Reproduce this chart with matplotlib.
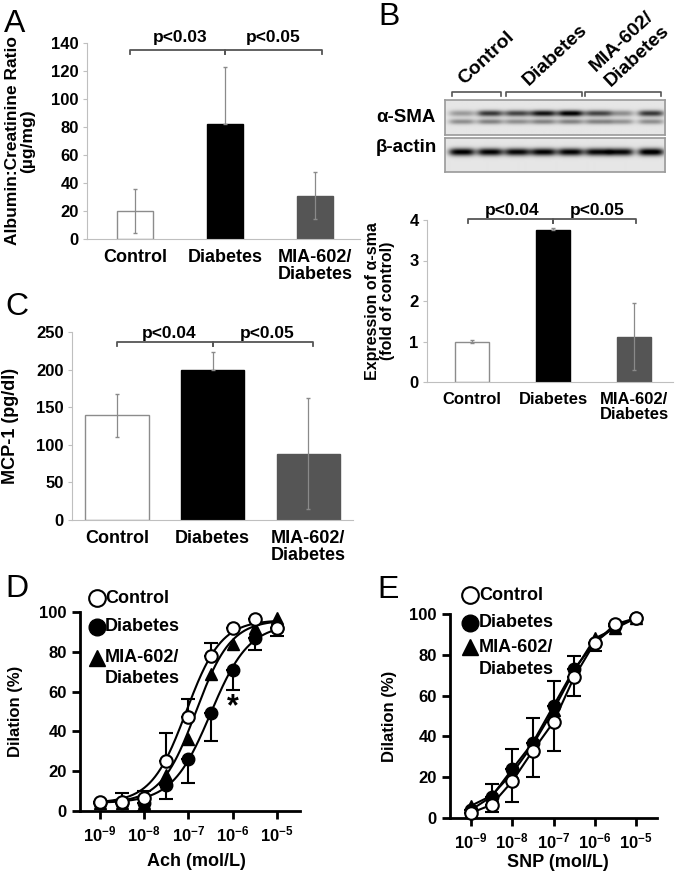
import numpy as np
import matplotlib
matplotlib.use('Agg')
import matplotlib.pyplot as plt
from matplotlib.ticker import NullLocator

plt.rcParams['font.family'] = ['Liberation Sans', 'DejaVu Sans']
plt.rcParams['font.weight'] = 'bold'
plt.rcParams['axes.labelweight'] = 'bold'
plt.rcParams['mathtext.fontset'] = 'custom'
plt.rcParams['mathtext.rm'] = 'Liberation Sans:bold'
plt.rcParams['mathtext.bf'] = 'Liberation Sans:bold'

## data
groups = ['Control', 'Diabetes', 'MIA-602/\nDiabetes']

acr_mean = [20, 82, 31]          # albumin:creatinine (ug/mg)
acr_err = [15.5, 41, 17]
sma_mean = [1.0, 3.75, 1.12]     # a-sma fold of control
sma_err = [0.03, 0.05, 0.83]
mcp_mean = [139, 200, 88]        # MCP-1 (pg/dl)
mcp_err = [28.5, 24, 74]

# western blot band darkness per lane (8 lanes: 2 control, 3 diabetes, 3 MIA)
blot_groups = ['Control', 'Diabetes', 'MIA-602/\nDiabetes']
sma_upper = [0.3, 0.7, 0.65, 0.85, 0.95, 0.65, 0.35, 0.7]
sma_lower = [0.35, 0.4, 0.35, 0.4, 0.4, 0.4, 0.33, 0.35]
actin_band = [0.92, 0.9, 0.88, 0.9, 0.9, 0.88, 0.88, 0.95]

conc_exp = [-9, -8.5, -8, -7.5, -7, -6.5, -6, -5.5, -5]
ach_ctrl = [4.5, 4.5, 6.5, 25, 47, 78, 92, 96.5, 92]
ach_ctrl_err = [0, 4.5, 3.5, 14, 9.5, 6.5, 0, 0, 0]
ach_diab = [4, 4, 4, 13, 26, 49, 71, 87, 92]
ach_diab_err = [0, 0, 4, 7, 12, 14, 10, 6, 4]
ach_mia = [4, 4, 4, 18, 36, 69, 84, 92, 97]
# fitted curves: bottom, top, logEC50, hill
ach_fit_ctrl = [4, 96, -7.05, 1.1]
ach_fit_diab = [4, 94, -6.5, 1.0]
ach_fit_mia = [4, 96, -6.83, 1.1]

snp_ctrl = [2.5, 6.5, 18, 33, 47, 69, 86, 95, 98]
snp_ctrl_err = [0, 3.5, 10, 13, 14, 9, 4, 0, 0]
snp_diab = [4, 10.5, 24, 37, 55, 73, 86, 94, 98]
snp_diab_err = [0, 6, 10, 12, 12, 6.5, 0, 0, 0]
snp_mia = [6, 11, 22, 36, 53, 72, 88, 93, 98]

W, H = 677, 875
fig = plt.figure(figsize=(6.77, 8.75), dpi=100)


def add_ax(l, t, r, b):
    return fig.add_axes([l / W, 1 - b / H, (r - l) / W, (b - t) / H])


def ftext(x, y, s, **kw):
    return fig.text(x / W, 1 - y / H, s, **kw)


## bar panels
def bar_panel(ax, means, errs, width, xlim, ylim, yticks, ylabel, ylab_x,
              ylab_size, lab_size, braces, hook, pvals, pval_y):
    x = np.arange(3)
    ax.bar(x, means, width, color=['white', 'black', '#555555'],
           edgecolor=['#8c8c8c', 'black', '#555555'], linewidth=1, zorder=2)
    lower = [errs[0], 0, errs[2]]
    ax.errorbar(x, means, yerr=[lower, errs], fmt='none', ecolor='#8a8a8a',
                elinewidth=0.9, capsize=1.5, zorder=3)
    ax.set_xlim(xlim)
    ax.set_ylim(ylim)
    ax.set_yticks(yticks)
    ax.set_xticks(x)
    ax.set_xticklabels(groups, fontsize=lab_size, linespacing=1.0)
    ax.tick_params(axis='x', length=0, pad=7)
    ax.tick_params(axis='y', length=3, color='#bfbfbf', labelsize=12, pad=3)
    for s in ['top', 'right']:
        ax.spines[s].set_visible(False)
    for s in ['left', 'bottom']:
        ax.spines[s].set_color('#bfbfbf')
    ax.set_ylabel(ylabel, fontsize=ylab_size, va='center', linespacing=1.0)
    ax.yaxis.set_label_coords(ylab_x, 0.5)
    for (x0, x1, y), (px, p) in zip(braces, zip(pvals[0], pvals[1])):
        ax.plot([x0, x0, x1, x1], [y - hook, y, y, y - hook], color='#555555',
                lw=1.3, clip_on=False)
        ax.text(px, pval_y, p, ha='center', va='baseline', fontsize=12.5)


axA = add_ax(87, 43, 360, 239)
bar_panel(axA, acr_mean, acr_err, 0.4, (-0.533, 2.5), (0, 140), range(0, 141, 20),
          'Albumin:Creatinine Ratio\n(µg/mg)', -0.245, 12.5, 13,
          [(-0.05, 1.0, 135), (1.0, 2.08, 135)], 3,
          ([0.5, 1.53], ['p<0.03', 'p<0.05']), 141)

axB = add_ax(427, 220, 673, 382)
bar_panel(axB, sma_mean, sma_err, 0.41, (-0.556, 2.48), (0, 4), range(0, 5),
          'Expression of α-sma\n(fold of control)', -0.19, 11.5, 12,
          [(-0.05, 1.0, 4.02), (1.0, 2.02, 4.02)], 0.09,
          ([0.5, 1.54], ['p<0.04', 'p<0.05']), 4.12)

axC = add_ax(72, 332, 353, 520)
bar_panel(axC, mcp_mean, mcp_err, 0.66, (-0.471, 2.47), (0, 250), range(0, 251, 50),
          'MCP-1 (pg/dl)', -0.22, 13, 13,
          [(0.0, 1.0, 237), (1.0, 2.05, 237)], 6,
          ([0.55, 1.57], ['p<0.04', 'p<0.05']), 242)

## western blot
lane_px = [17, 45, 72, 98, 125, 152, 175, 205]


def blot_image(w, h, rows):
    xx, yy = np.meshgrid(np.arange(w) + 0.5, np.arange(h) + 0.5)
    img = np.full((h, w), 0.9)
    for yc, sy, vals in rows:
        for cx, v in zip(lane_px, vals):
            img -= v * np.exp(-((xx - cx) / 13) ** 4) * np.exp(-((yy - yc) / sy) ** 2)
    return np.clip(img, 0, 1)


for (t, b), rows in [((100, 135), [(14, 3.0, sma_upper), (22, 2.6, sma_lower)]),
                     ((138, 172), [(14, 3.8, actin_band)])]:
    axb = add_ax(445, t, 665, b)
    axb.imshow(blot_image(220, b - t, rows), cmap='gray', vmin=0, vmax=1,
               aspect='auto', interpolation='bilinear')
    axb.set_xticks([])
    axb.set_yticks([])
    for s in axb.spines.values():
        s.set_color('#9a9a9a')
        s.set_linewidth(1.2)

ftext(376, 118, 'α-SMA', fontsize=13.5, va='center', ha='left')
ftext(376, 148, 'β-actin', fontsize=13.5, va='center', ha='left')

# group brackets + rotated labels above blot
spans = [(452, 501), (506, 582), (585, 661)]
anchors = [(467, 88), (531, 89), (613, 90)]
for (x0, x1), (ax_, ay_), g in zip(spans, anchors, blot_groups):
    fig.add_artist(plt.Line2D([x0 / W, x0 / W, x1 / W, x1 / W],
                              [1 - 96 / H, 1 - 92 / H, 1 - 92 / H, 1 - 96 / H],
                              color='#555555', lw=1.2))
    ftext(ax_, ay_, g, fontsize=14, rotation=43, rotation_mode='anchor',
          ha='left', va='bottom', linespacing=1.3)


## dose response panels
def hill(xe, p):
    return p[0] + (p[1] - p[0]) / (1 + 10 ** (p[3] * (p[2] - xe)))


def style_dr(ax, xlim, xlabel, xlab_xy, ylab_x):
    ax.set_xscale('log')
    ax.set_xlim(10 ** xlim[0], 10 ** xlim[1])
    ax.set_ylim(0, 100)
    ax.set_xticks([10.0 ** e for e in range(-9, -4)])
    ax.set_xticklabels([r'$\mathbf{10^{%d}}$' % e for e in range(-9, -4)], fontsize=12)
    ax.xaxis.set_minor_locator(NullLocator())
    ax.set_yticks(range(0, 101, 20))
    ax.tick_params(axis='both', width=2, length=6, labelsize=12, direction='out')
    for s in ['top', 'right']:
        ax.spines[s].set_visible(False)
    for s in ['left', 'bottom']:
        ax.spines[s].set_linewidth(2)
    ax.set_xlabel(xlabel, fontsize=13, va='center')
    ax.xaxis.set_label_coords(*xlab_xy)
    ax.set_ylabel('Dilation (%)', fontsize=12, va='center')
    ax.yaxis.set_label_coords(ylab_x, 0.5)


def legend_dr(ax, xm, xt, ys):
    kw = dict(transform=ax.transAxes, clip_on=False, color='black', ls='none')
    ax.plot(xm, ys[0], marker='o', ms=12, mfc='white', mec='black', mew=1.5, **kw)
    ax.plot(xm, ys[1], marker='o', ms=12, mfc='black', mec='black', **kw)
    ax.plot(xm, ys[2], marker='^', ms=12, mfc='black', mec='black', **kw)
    labels = ['Control', 'Diabetes', 'MIA-602/', 'Diabetes']
    for y, s in zip(ys, labels):
        ax.text(xt, y, s, transform=ax.transAxes, fontsize=13, va='center', ha='left')


conc = [10.0 ** e for e in conc_exp]
zeros = [0] * len(conc)

axD = add_ax(80, 612, 300, 811)
xs = np.linspace(-9, -5, 200)
for p in [ach_fit_ctrl, ach_fit_diab, ach_fit_mia]:
    axD.plot(10 ** xs, hill(xs, p), color='black', lw=1.5, zorder=2)
axD.errorbar(conc, ach_ctrl, yerr=[zeros, ach_ctrl_err], fmt='none', ecolor='black',
             elinewidth=1.5, capsize=5, capthick=1.5, zorder=3)
axD.errorbar(conc, ach_diab, yerr=[ach_diab_err, zeros], fmt='none', ecolor='black',
             elinewidth=1.5, capsize=5, capthick=1.5, zorder=3)
axD.plot(conc, ach_diab, 'o', ms=9, color='black', zorder=4, clip_on=False)
axD.plot(conc, ach_mia, '^', ms=9, color='black', zorder=5, clip_on=False)
axD.plot(conc, ach_ctrl, 'o', ms=9, mfc='white', mec='black', mew=1.5, zorder=6, clip_on=False)
axD.text(1e-6, 52, '*', fontsize=22, ha='center', va='center')
style_dr(axD, (-9.45, -4.48), 'Ach (mol/L)', (0.53, -0.255), -0.295)
legend_dr(axD, 0.077, 0.114, [1.07, 0.925, 0.77, 0.668])

axE = add_ax(450, 614, 657, 818)
for yv in [snp_diab, snp_mia, snp_ctrl]:
    axE.plot(conc, yv, color='black', lw=1.5, zorder=2)
axE.errorbar(conc, snp_ctrl, yerr=[snp_ctrl_err, zeros], fmt='none', ecolor='black',
             elinewidth=1.5, capsize=5, capthick=1.5, zorder=3)
axE.errorbar(conc, snp_diab, yerr=[zeros, snp_diab_err], fmt='none', ecolor='black',
             elinewidth=1.5, capsize=5, capthick=1.5, zorder=3)
axE.plot(conc, snp_diab, 'o', ms=9, color='black', zorder=4, clip_on=False)
axE.plot(conc, snp_mia, '^', ms=9, color='black', zorder=5, clip_on=False)
axE.plot(conc, snp_ctrl, 'o', ms=9, mfc='white', mec='black', mew=1.5, zorder=6, clip_on=False)
style_dr(axE, (-9.51, -4.49), 'SNP (mol/L)', (0.52, -0.22), -0.29)
legend_dr(axE, 0.097, 0.14, [1.093, 0.956, 0.838, 0.73])

## panel letters
for x, y, s in [(4, 32, 'A'), (378, 25, 'B'), (5, 315, 'C'), (5, 597, 'D'), (377, 598, 'E')]:
    ftext(x, y, s, fontsize=23, fontweight='normal', va='baseline', ha='left')

fig.savefig('out.png', dpi=100)
